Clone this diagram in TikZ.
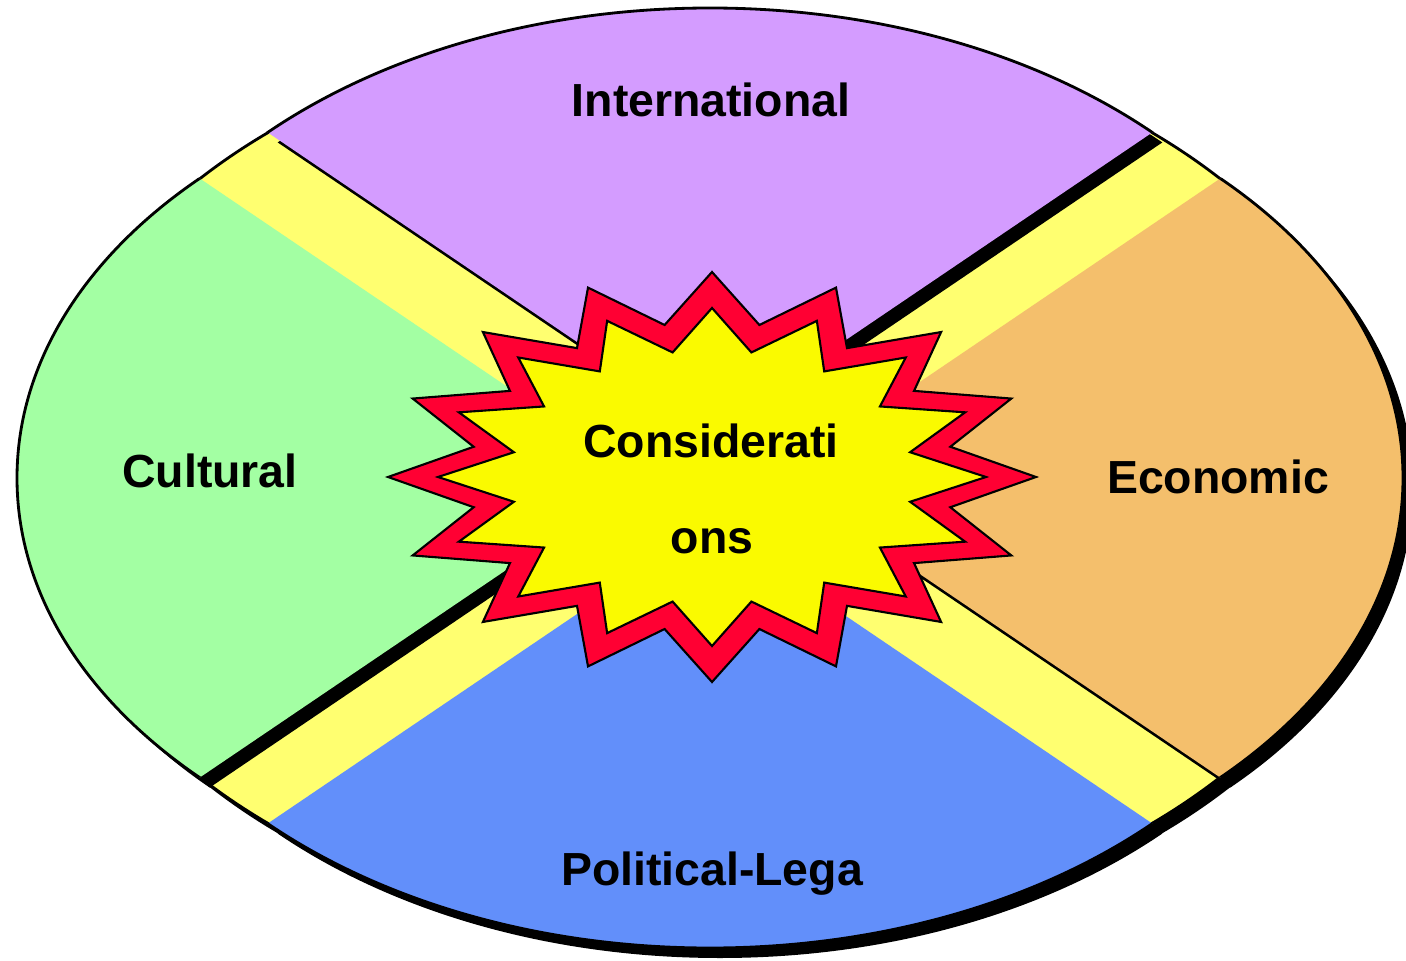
\documentclass[tikz,border=0pt]{standalone}
\usepackage{fontspec}
\setmainfont{Liberation Sans}
\definecolor{intlpurple}{RGB}{212,156,255}
\definecolor{cultgreen}{RGB}{163,255,163}
\definecolor{econorange}{RGB}{244,191,108}
\definecolor{polblue}{RGB}{98,143,250}
\definecolor{bandyellow}{RGB}{255,255,112}
\definecolor{staryellow}{RGB}{250,250,0}
\definecolor{starred}{RGB}{255,0,51}

\begin{document}
\begin{tikzpicture}[x=0.01cm, y=-0.01cm,
  lbl/.style={font=\fontsize{13.2}{16}\selectfont\bfseries, anchor=base},
  rim/.style={line width=0.8pt}]

\useasboundingbox (0,0) rectangle (1406,961);

\fill[black] (720,488) ellipse [x radius=675, y radius=457];
\draw[rim, fill=bandyellow] (710,478) ellipse [x radius=675, y radius=457];

\begin{scope}[shift={(10,10)}]
\begin{scope}
\clip (710,432) -- (-331,-273) -- (1751,-273) -- cycle;
\fill[black] (710,432) ellipse [x radius=625, y radius=424];
\end{scope}
\begin{scope}
\clip (710,524) -- (-331,1229) -- (1751,1229) -- cycle;
\fill[black] (710,524) ellipse [x radius=625, y radius=424];
\end{scope}
\begin{scope}
\clip (642,478) -- (-399,-227) -- (-399,1183) -- cycle;
\fill[black] (642,478) ellipse [x radius=625, y radius=424];
\end{scope}
\begin{scope}
\clip (778,478) -- (1819,-227) -- (1819,1183) -- cycle;
\fill[black] (778,478) ellipse [x radius=625, y radius=424];
\end{scope}
\end{scope}

\begin{scope}
\clip (710,432) -- (-331,-273) -- (1751,-273) -- cycle;
\draw[rim, fill=intlpurple] (710,432) ellipse [x radius=625, y radius=424];
\end{scope}
\begin{scope}
\clip (710,524) -- (-331,1229) -- (1751,1229) -- cycle;
\draw[rim, fill=polblue] (710,524) ellipse [x radius=625, y radius=424];
\end{scope}
\begin{scope}
\clip (642,478) -- (-399,-227) -- (-399,1183) -- cycle;
\draw[rim, fill=cultgreen] (642,478) ellipse [x radius=625, y radius=424];
\end{scope}
\begin{scope}
\clip (778,478) -- (1819,-227) -- (1819,1183) -- cycle;
\draw[rim, fill=econorange] (778,478) ellipse [x radius=625, y radius=424];
\end{scope}

\begin{scope}[shift={(712,477)}]
\draw[fill=starred, line width=0.6pt] (90:324 and 205)
  \foreach \a in {90,112.5,...,427.5} { -- (\a:324 and 205) -- (\a+11.25:243 and 155) } -- cycle;
\draw[fill=staryellow, line width=0.6pt] (90:274 and 169)
  \foreach \a in {90,112.5,...,427.5} { -- (\a:274 and 169) -- (\a+11.25:202 and 127) } -- cycle;
\end{scope}

\node[lbl] (intl) at (711,117) {International};
\node[lbl] (cult) at (210,488) {Cultural};
\node[lbl] (econ) at (1218,493) {Economic};
\node[lbl] (pol) at (712,885) {Political-Lega};
\node[lbl] (cons) at (711,458) {Considerati};
\node[lbl] (ons) at (712,554) {ons};

\end{tikzpicture}
\end{document}
